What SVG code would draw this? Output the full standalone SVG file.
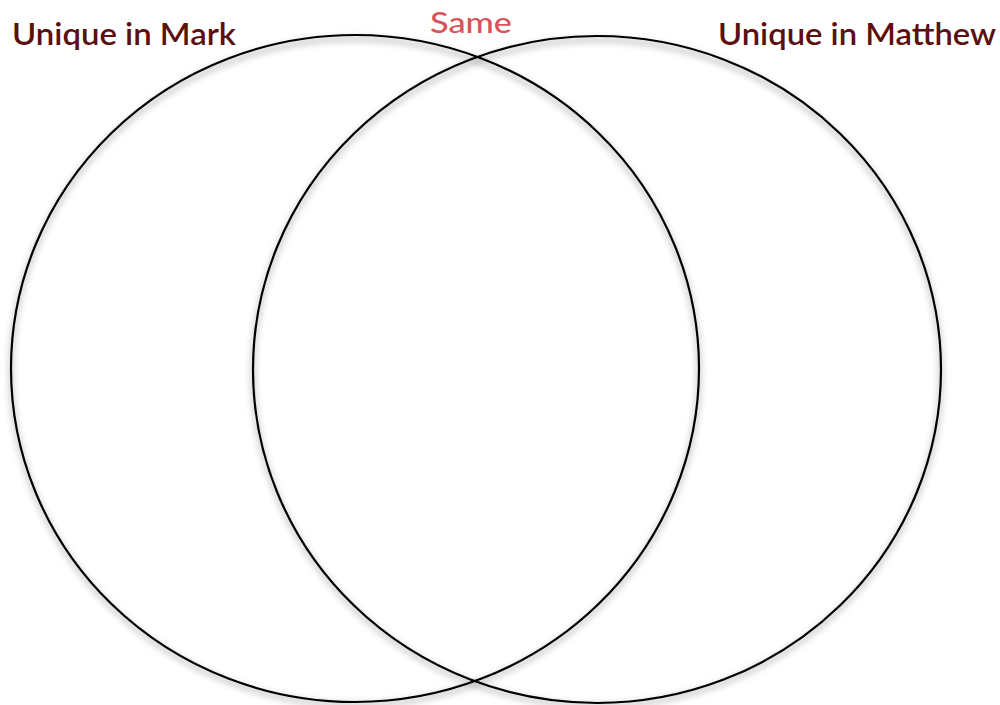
<svg xmlns="http://www.w3.org/2000/svg" width="1000" height="705" viewBox="0 0 1000 705">
<style>
.c{fill:none;stroke:#000;stroke-width:2.2}
.s{fill:none;stroke:#999;stroke-width:5;opacity:0.5;filter:url(#blur)}
.t{font-family:Lato,"Open Sans",sans-serif;font-size:31px;fill:#5c0f0f;font-weight:600}
.m{font-family:Lato,"Open Sans",sans-serif;font-size:29px;fill:#d9545a;font-weight:500}
</style>
<defs><filter id="blur" x="-10%" y="-10%" width="120%" height="120%"><feGaussianBlur stdDeviation="3"/></filter></defs>
<rect width="1000" height="705" fill="#fff"/>
<g id="shadows">
<ellipse class="s" cx="355" cy="372" rx="344" ry="333"/>
<ellipse class="s" cx="597" cy="373" rx="344" ry="333"/>
</g>
<g id="left-circle"><ellipse class="c" cx="355" cy="368.5" rx="344" ry="333.5"/></g>
<g id="right-circle"><ellipse class="c" cx="597" cy="369.5" rx="344" ry="333.5"/></g>
<g id="labels">
<text id="mark" class="t" x="12" y="45" textLength="224" lengthAdjust="spacingAndGlyphs">Unique in Mark</text>
<text id="same" class="m" x="430" y="33" textLength="82" lengthAdjust="spacingAndGlyphs">Same</text>
<text id="matthew" class="t" x="718" y="45" textLength="278" lengthAdjust="spacingAndGlyphs">Unique in Matthew</text>
</g>
</svg>
